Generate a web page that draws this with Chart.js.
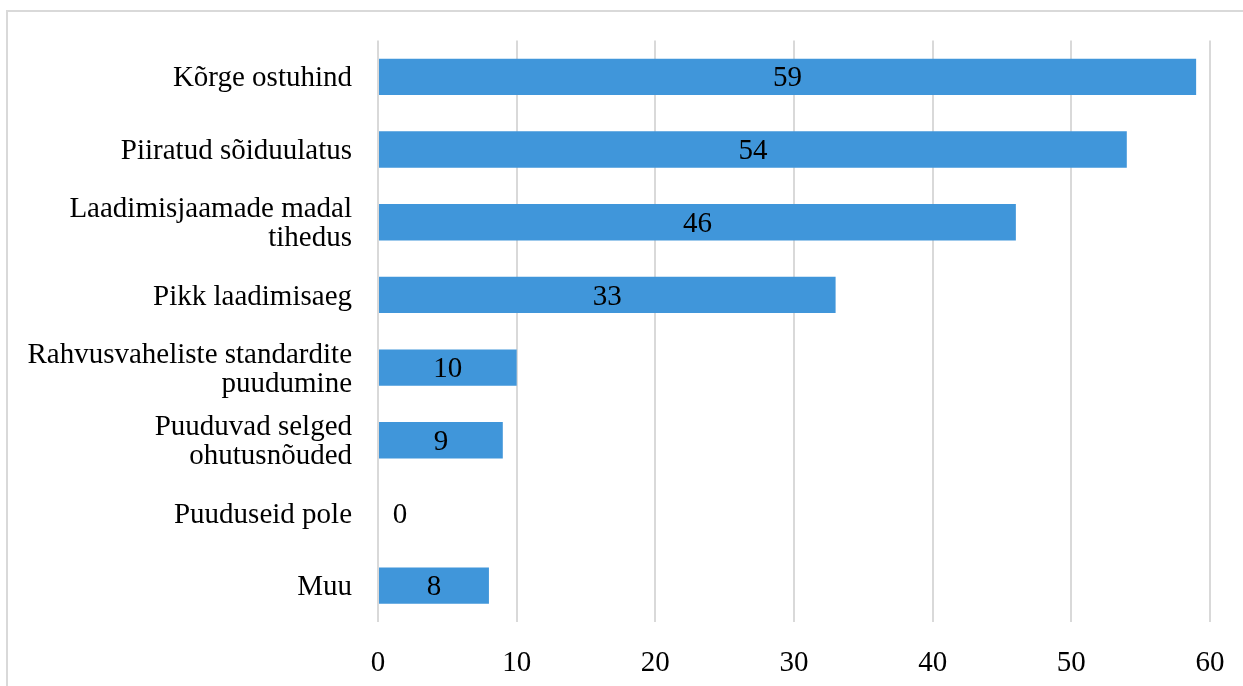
<!DOCTYPE html>
<html>
<head>
<meta charset="utf-8">
<script src="https://cdn.jsdelivr.net/npm/chart.js@4/dist/chart.umd.min.js"></script>
<style>
  html, body { margin: 0; padding: 0; background: #fff; overflow: hidden; }
  #frame {
    position: absolute; left: 6px; top: 10px;
    width: 1300px; height: 720px;
    border: 2px solid #d9d9d9;
  }
  #chart { position: absolute; left: 0; top: 0; }
</style>
</head>
<body>
<div id="frame"></div>
<canvas id="chart" width="1243" height="686"></canvas>
<script>
// kategooriad ja väärtused
var categories = [
	'Kõrge ostuhind',
	'Piiratud sõiduulatus',
	['Laadimisjaamade madal', 'tihedus'],
	'Pikk laadimisaeg',
	['Rahvusvaheliste standardite', 'puudumine'],
	['Puuduvad selged', 'ohutusnõuded'],
	'Puuduseid pole',
	'Muu'
];
var counts = [59, 54, 46, 33, 10, 9, 0, 8];
var xTicks = [0, 10, 20, 30, 40, 50, 60];

var FONT = '"Liberation Serif", "Times New Roman", serif';
var FSIZE = 29;

// väärtuse silt tulba keskele (0 puhul veidi paremale)
var barLabels = {
	id: 'barLabels',
	afterDatasetsDraw: function (chart) {
		var ctx = chart.ctx;
		var meta = chart.getDatasetMeta(0);
		ctx.save();
		ctx.font = FSIZE + 'px ' + FONT;
		ctx.fillStyle = '#000';
		ctx.textAlign = 'center';
		ctx.textBaseline = 'middle';
		meta.data.forEach(function (bar, i) {
			var v = counts[i];
			var x = v === 0 ? bar.base + 22 : (bar.x + bar.base) / 2;
			ctx.fillText(String(v), x, bar.y + 2);
		});
		ctx.restore();
	}
};

var ctx = document.getElementById('chart').getContext('2d');
new Chart(ctx, {
	type: 'bar',
	data: {
		labels: categories,
		datasets: [{
			data: counts,
			backgroundColor: '#4096da',
			borderWidth: 0,
			barPercentage: 0.5,
			categoryPercentage: 1
		}]
	},
	options: {
		indexAxis: 'y',
		responsive: false,
		animation: false,
		devicePixelRatio: 1,
		layout: { padding: { top: 40, right: 33, left: 0, bottom: 0 } },
		scales: {
			x: {
				min: 0,
				max: 60,
				afterBuildTicks: function (scale) {
					scale.ticks = xTicks.map(function (v) { return { value: v }; });
				},
				afterFit: function (scale) { scale.height = 64; },
				// tick-joon nähtamatu, annab vaid vahe siltidele
				grid: { color: '#d9d9d9', lineWidth: 2, drawTicks: true, tickLength: 22, tickColor: 'rgba(0,0,0,0)' },
				border: { display: false },
				ticks: { color: '#000', font: { family: FONT, size: FSIZE }, padding: 2 }
			},
			y: {
				afterFit: function (scale) { scale.width = 378; },
				grid: { display: false, drawTicks: false },
				border: { display: false },
				ticks: { color: '#000', font: { family: FONT, size: FSIZE, lineHeight: 1.0 }, padding: 26, labelOffset: 2 }
			}
		},
		plugins: {
			legend: { display: false },
			tooltip: { enabled: false }
		}
	},
	plugins: [barLabels]
});
</script>
</body>
</html>
